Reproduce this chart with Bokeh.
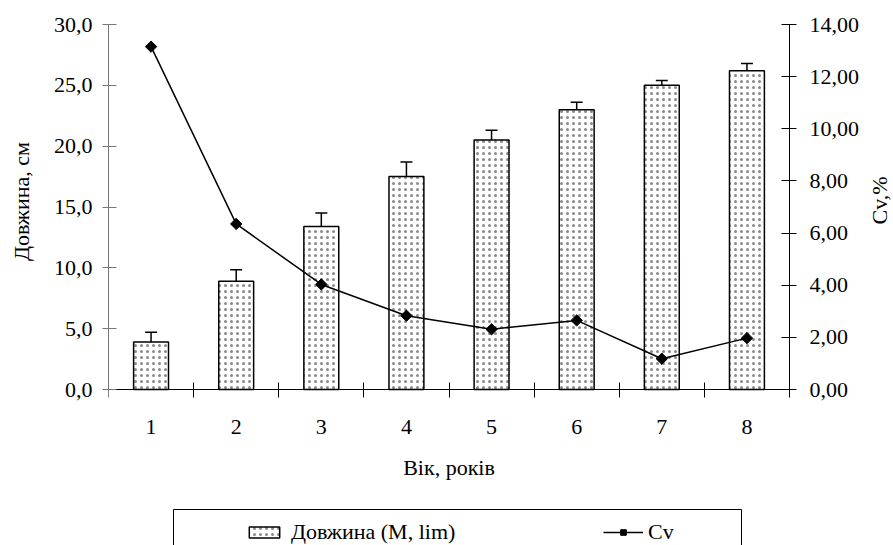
import math
from bokeh.plotting import figure
from bokeh.models import (ColumnDataSource, Range1d, LinearAxis, FixedTicker, Whisker,
                          TeeHead, Legend, LegendItem, BoxAnnotation, Label)
from bokeh.embed import file_html
from bokeh.resources import INLINE

# ---- data ----
ages = [1, 2, 3, 4, 5, 6, 7, 8]
length_mean = [3.9, 8.9, 13.4, 17.5, 20.5, 23.0, 25.0, 26.2]
length_upper = [4.7, 9.85, 14.5, 18.7, 21.3, 23.6, 25.4, 26.8]
length_lower = [3.1, 8.1, 12.7, 16.8, 19.7, 21.5, 24.1, 25.6]
cv = [13.15, 6.35, 4.03, 2.83, 2.31, 2.65, 1.18, 1.97]
left_ticks = [0, 5, 10, 15, 20, 25, 30]
right_ticks = [0, 2, 4, 6, 8, 10, 12, 14]
x_label = "Вік, років"
left_label = "Довжина, см"
right_label = "Cv,%"
bar_name = "Довжина (M, lim)"
line_name = "Cv"

FONT = "Liberation Serif"
FS = "22px"
NBSP = "\u00a0"

W, H = 893, 545
LEFT, RIGHT_X, TOP, ZERO_Y = 108, 789, 24, 389   # pixel positions of the axes
px_per_len = (ZERO_Y - TOP) / left_ticks[-1]
px_per_cv = (ZERO_Y - TOP) / right_ticks[-1]
len_bottom = -(H - ZERO_Y) / px_per_len
len_top = left_ticks[-1] + TOP / px_per_len
cv_bottom = -(H - ZERO_Y) / px_per_cv
cv_top = right_ticks[-1] + TOP / px_per_cv
x_lo, x_hi = ages[0] - 0.5, ages[-1] + 0.5
px_per_x = (RIGHT_X - LEFT) / (x_hi - x_lo)
x_end = x_hi + (W - RIGHT_X) / px_per_x

p = figure(width=W, height=H, output_backend="svg", toolbar_location=None,
           x_range=Range1d(x_lo, x_end), y_range=Range1d(len_bottom, len_top),
           min_border_left=LEFT, min_border_right=0, min_border_top=0,
           min_border_bottom=0, outline_line_color=None)
p.xgrid.visible = False
p.ygrid.visible = False
p.extra_y_ranges = {"cv": Range1d(cv_bottom, cv_top)}

src = ColumnDataSource(dict(x=ages, top=length_mean, upper=length_upper,
                            lower=length_lower, cv=cv))

bars = p.vbar(x="x", top="top", bottom=0, width=0.41, source=src, fill_color="white",
              line_color="black", line_width=1.5, hatch_pattern="dot",
              hatch_scale=6, hatch_color="#8a8a8a", hatch_weight=1)

wh = Whisker(base="x", upper="upper", lower="lower", source=src,
             line_color="black", line_width=1.5,
             upper_head=TeeHead(size=12, line_width=1.5, line_color="black"),
             lower_head=TeeHead(size=12, line_width=1.5, line_color="black"))
p.add_layout(wh)

ln = p.line("x", "cv", source=src, y_range_name="cv", line_color="black", line_width=1.5)
pts = p.scatter("x", "cv", source=src, y_range_name="cv", marker="square",
                angle=math.pi / 4, size=8, fill_color="black", line_color="black")

# x axis, fixed at zero
xa = p.xaxis[0]
xa.fixed_location = 0
xa.bounds = (x_lo, x_hi)
xa.ticker = FixedTicker(ticks=ages, minor_ticks=[a - 0.5 for a in ages] + [x_hi])
xa.major_tick_in = 0
xa.major_tick_out = 0
xa.minor_tick_in = 7
xa.minor_tick_out = 8
xa.minor_tick_line_color = "black"
xa.axis_line_color = "black"
xa.axis_line_width = 1.2
xa.major_label_standoff = 22
xa.major_label_text_font = FONT
xa.major_label_text_font_size = FS
xa.major_label_text_color = "black"
xa.axis_label = x_label
xa.axis_label_text_font = FONT
xa.axis_label_text_font_size = FS
xa.axis_label_text_font_style = "normal"
xa.axis_label_text_color = "black"
xa.axis_label_standoff = 18

# left axis
ya = p.yaxis[0]
ya.bounds = (0, left_ticks[-1])
ya.ticker = FixedTicker(ticks=left_ticks, minor_ticks=[])
ya.major_label_overrides = {t: f"{t:.1f}".replace(".", ",") for t in left_ticks}
ya.major_tick_in = 8
ya.major_tick_out = 6
ya.minor_tick_out = 0
ya.minor_tick_in = 0
ya.axis_line_color = "#777777"
ya.major_tick_line_color = "#777777"
ya.major_label_standoff = 10
ya.major_label_text_font = FONT
ya.major_label_text_font_size = FS
ya.major_label_text_color = "black"
# leading no-break spaces lift the label to the middle of the 0..30 part of the axis
ya.axis_label = NBSP * 26 + left_label
ya.axis_label_text_font = FONT
ya.axis_label_text_font_size = FS
ya.axis_label_text_font_style = "normal"
ya.axis_label_text_color = "black"
ya.axis_label_standoff = 17

# right axis, fixed at the right end of the categories
ra = LinearAxis(y_range_name="cv", bounds=(0, right_ticks[-1]), fixed_location=x_hi,
                ticker=FixedTicker(ticks=right_ticks, minor_ticks=[]))
ra.major_label_overrides = {t: f"{t:.2f}".replace(".", ",") for t in right_ticks}
ra.major_tick_in = 8
ra.major_tick_out = 7
ra.minor_tick_out = 0
ra.minor_tick_in = 0
ra.axis_line_color = "black"
ra.major_tick_line_color = "black"
ra.major_label_standoff = 13
ra.major_label_text_font = FONT
ra.major_label_text_font_size = FS
ra.major_label_text_color = "black"
p.add_layout(ra, "right")

# right axis title, reading upwards
p.add_layout(Label(x=879 - LEFT, y=H - 200, x_units="screen", y_units="screen",
                   text=right_label, angle=math.pi / 2, text_align="center",
                   text_baseline="middle", text_font=FONT, text_font_size=FS,
                   text_color="black"))

# legend box (inside the frame, open at the bottom edge)
box = BoxAnnotation(left=65, right=633, top=36, bottom=-5,
                    left_units="screen", right_units="screen",
                    top_units="screen", bottom_units="screen",
                    fill_alpha=0, line_color="black", line_width=1, line_alpha=1)
p.add_layout(box)

leg1 = Legend(items=[LegendItem(label=bar_name, renderers=[bars])],
              location=(137, 0), orientation="horizontal", padding=0, margin=0,
              border_line_color=None, background_fill_alpha=0,
              glyph_width=38, glyph_height=14, label_standoff=8,
              label_text_font=FONT, label_text_font_size=FS,
              label_text_font_style="normal", label_text_color="black")
leg2 = Legend(items=[LegendItem(label=line_name, renderers=[ln, pts])],
              location=(495, 0), orientation="horizontal", padding=0, margin=0,
              border_line_color=None, background_fill_alpha=0,
              glyph_width=40, glyph_height=14, label_standoff=5,
              label_text_font=FONT, label_text_font_size=FS,
              label_text_font_style="normal", label_text_color="black")
p.add_layout(leg1)
p.add_layout(leg2)

open("out.html", "w").write(file_html(p, INLINE))
